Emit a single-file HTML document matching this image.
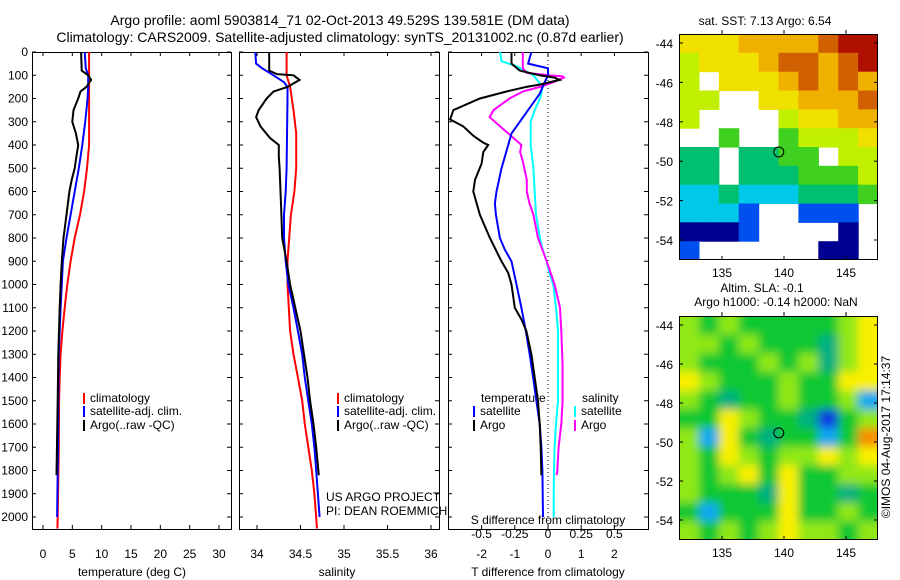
<!DOCTYPE html>
<html><head><meta charset="utf-8"><style>
html,body{margin:0;padding:0;background:#fff;}
svg{display:block;font-family:"Liberation Sans",sans-serif;}
</style></head><body>
<svg id="fig" width="900" height="580" viewBox="0 0 900 580">
<defs>
<filter id="blur" x="0" y="0" width="1" height="1"><feGaussianBlur stdDeviation="4.5"/></filter>
<clipPath id="clipMap1"><rect x="679" y="34" width="199" height="226"/></clipPath>
<clipPath id="clipMap2"><rect x="679" y="316" width="199" height="224"/></clipPath>
</defs>
<text x="340" y="25" font-size="14" text-anchor="middle">Argo profile: aoml 5903814_71 02-Oct-2013 49.529S 139.581E (DM data)</text>
<text x="340" y="42" font-size="14" text-anchor="middle">Climatology: CARS2009. Satellite-adjusted climatology: synTS_20131002.nc (0.87d earlier)</text>
</svg>
<script>
// ---------- data ----------
const tempDepthClim = [0,100,200,300,400,500,600,700,800,900,1000,1100,1200,1300,1400,1500,1700,2000,2050];
const tempClim = [7.85,7.85,7.85,7.85,7.85,7.5,7.0,6.3,5.4,4.7,4.15,3.7,3.3,3.0,2.85,2.75,2.7,2.5,2.45];
const tempDepthSat = [0,70,100,150,200,300,400,500,600,700,800,900,1000,1100,1200,1300,1500,1700,1900,2000];
const tempSat = [7.1,7.3,7.7,7.7,7.6,7.2,6.7,6.1,5.4,4.7,4.0,3.4,3.2,3.0,2.85,2.7,2.6,2.55,2.45,2.4];
const tempDepthArgo = [0,80,100,120,150,170,200,250,300,350,400,450,500,550,600,700,800,900,1000,1100,1300,1500,1820];
const tempArgo = [6.5,6.6,7.7,8.2,7.4,6.4,6.0,5.2,5.0,5.6,6.0,5.7,5.4,4.9,4.5,4.0,3.5,3.2,3.0,2.85,2.6,2.5,2.3];

const salDepthClim = [0,100,150,250,350,500,600,700,800,900,1000,1200,1300,1400,1500,1600,1700,1800,1900,2050];
const salClim = [34.34,34.34,34.38,34.42,34.45,34.45,34.43,34.39,34.37,34.35,34.35,34.38,34.42,34.47,34.52,34.55,34.59,34.63,34.66,34.69];
const salDepthSat = [0,50,70,100,130,150,200,500,600,700,800,900,1000,1100,1200,1300,1400,1500,1600,1700,1800,1900,2000];
const salSat = [33.98,33.99,34.06,34.19,34.31,34.35,34.35,34.34,34.33,34.31,34.31,34.33,34.36,34.42,34.47,34.52,34.55,34.59,34.63,34.66,34.68,34.70,34.72];
const salDepthArgo = [0,80,95,100,120,150,170,200,250,280,320,370,400,450,500,600,700,800,900,1000,1100,1200,1300,1400,1500,1600,1700,1820];
const salArgo = [34.14,34.14,34.23,34.42,34.49,34.35,34.19,34.11,34.02,33.99,34.04,34.15,34.25,34.25,34.26,34.27,34.28,34.29,34.34,34.38,34.44,34.50,34.54,34.58,34.61,34.65,34.68,34.71];

const dTDepthArgo = [0,50,80,100,110,120,140,150,170,200,250,290,320,360,390,400,430,480,550,600,700,800,900,950,1000,1100,1150,1200,1300,1400,1500,1600,1700,1820];
const dTArgo = [-1.1,-1.1,-0.85,-0.25,0.2,0.35,-0.25,-0.65,-1.25,-2.05,-2.85,-2.95,-2.55,-2.25,-1.95,-1.8,-1.95,-2.0,-2.2,-2.25,-2.05,-1.75,-1.4,-1.2,-1.1,-1.0,-0.8,-0.65,-0.5,-0.4,-0.3,-0.25,-0.22,-0.2];
const dTDepthSat = [0,50,70,100,130,180,250,300,350,400,500,600,650,700,800,850,900,1000,1100,1200,1300,1400,1500,1600,1700,1800,2000];
const dTSat = [-0.5,-0.6,0,0,-0.1,-0.25,-0.6,-0.85,-1.1,-1.2,-1.4,-1.55,-1.6,-1.57,-1.45,-1.3,-1.1,-0.95,-0.8,-0.67,-0.55,-0.45,-0.35,-0.25,-0.2,-0.17,-0.15];
const dSDepthSat = [0,40,60,100,150,200,250,300,400,500,600,700,800,850,900,950,1000,1100,1200,1300,1400,1500,1600,1700,1800,1900,2000];
const dSSat = [-0.36,-0.35,-0.24,-0.11,-0.04,-0.06,-0.1,-0.13,-0.13,-0.11,-0.1,-0.09,-0.06,-0.04,-0.01,0.01,0.04,0.06,0.075,0.075,0.075,0.075,0.06,0.05,0.045,0.043,0.043];
const dSDepthArgo = [0,70,90,100,105,110,130,150,170,200,250,280,330,370,400,430,470,550,600,650,700,800,900,1000,1100,1200,1350,1500,1600,1700,1800,1820];
const dSArgo = [-0.19,-0.19,-0.16,0.01,0.11,0.12,0.04,-0.06,-0.19,-0.29,-0.41,-0.44,-0.34,-0.26,-0.2,-0.21,-0.19,-0.16,-0.16,-0.14,-0.11,-0.075,-0.01,0.05,0.09,0.1,0.11,0.11,0.1,0.08,0.07,0.065];

const depthTicks = [0,100,200,300,400,500,600,700,800,900,1000,1100,1200,1300,1400,1500,1600,1700,1800,1900,2000];
const tempTicks = [0,5,10,15,20,25,30];
const salTicks = [34,34.5,35,35.5,36];
const salTickLabels = ["34","34.5","35","35.5","36"];
const dTTicks = [-2,-1,0,1,2];
const dSTicks = [-0.5,-0.25,0,0.25,0.5];
const dSTickLabels = ["-0.5","-0.25","0","0.25","0.5"];
const latTicks = [-44,-46,-48,-50,-52,-54];
const lonTicks = [135,140,145];

// SST grid (10 cols x 12 rows, '.' = missing); codes 0..9 cold->warm
const sstRows = ["6667777899","5666788789","5.66678787","55..667778","5....56677","..4..45556","33.3344.55","33.3334445","2232223334","2221..111.","0001....0.","1......00."];
const sstColors = ["#000090","#0050f0","#00c8e8","#00c070","#40d020","#c0f000","#f0e000","#f0b000","#d06000","#b01000"];
const slaRows = ["4343333345","4434333245","4333434245","5433343355","4323343341","3354332034","4153233136","4354344545","4345353344","4333253323","3133353343","4343454434"];
const slaColors = ["#0838e0","#10a8f0","#00b080","#10c830","#90e818","#f8f000","#f89000"];
const argoLon = 139.58, argoLat = -49.53;

// ---------- helpers ----------
const svg = document.getElementById('fig');
const NS = 'http://www.w3.org/2000/svg';
function mk(tag, attrs, parent){ const e=document.createElementNS(NS,tag); for(const k in attrs) e.setAttribute(k,attrs[k]); (parent||svg).appendChild(e); return e; }
function txt(x,y,s,anchor,size,parent){ const t=mk('text',{x:x,y:y,'font-size':size||12,'text-anchor':anchor||'start'},parent); t.textContent=s; return t; }
const yTop=52, yPerM=(517-52)/2000, yBot=529;
const yD = d => yTop + d*yPerM;
const xT = v => 43 + v*(219-43)/30;
const xS = v => 257 + (v-34)*(431-257)/2;
const xDT = v => 548 + v*33.2;
const xDS = v => 548 + v*4*33.2;
function line(depths, vals, xf, color, name, width){
  const pts = depths.map((d,i)=> xf(vals[i]).toFixed(1)+','+yD(d).toFixed(1)).join(' ');
  const p = mk('polyline',{points:pts,fill:'none',stroke:color,'stroke-width':width||2});
  
  
}
function panel(x0,x1,name){
  const g = mk('g',{});
  
  
  mk('rect',{x:x0+0.5,y:yTop+0.5,width:x1-x0,height:yBot-yTop,fill:'none',stroke:'#000','stroke-width':1},g);
  return g;
}
function xticks(g,ticks,labels,xf,ly){
  ticks.forEach((v,i)=>{
    const x=xf(v);
    mk('line',{x1:x,y1:yBot,x2:x,y2:yBot-4,stroke:'#000'},g);
    mk('line',{x1:x,y1:yTop,x2:x,y2:yTop+4,stroke:'#000'},g);
    if(ly) txt(x,ly,labels[i],'middle',12,g);
  });
}
function yticks(g,x0,x1){
  depthTicks.forEach(d=>{ const y=yD(d); mk('line',{x1:x0,y1:y,x2:x0+4,y2:y,stroke:'#000'},g); mk('line',{x1:x1,y1:y,x2:x1-4,y2:y,stroke:'#000'},g); });
}
function legendEntry(g,x,y,color,label){
  mk('rect',{x:x,y:y-9,width:2,height:11,fill:color},g);
  const t=txt(x+7,y,label,'start',12,g);
  
  
}

// ---------- panel 1: temperature ----------
const p1 = panel(32,231,'temperature-panel');
yticks(p1,32,231);
depthTicks.forEach(d=>{ const t=txt(28,yD(d)+4,String(d),'end',12,p1); });
xticks(p1,tempTicks,tempTicks.map(String),xT,558);
txt(132,576,'temperature (deg C)','middle',12,p1);
line(tempDepthClim,tempClim,xT,'#ff0000','temp-climatology-line');
line(tempDepthSat,tempSat,xT,'#0000ff','temp-satellite-line');
line(tempDepthArgo,tempArgo,xT,'#000000','temp-argo-line');
legendEntry(p1,83,402,'#ff0000','climatology');
legendEntry(p1,83,415,'#0000ff','satellite-adj. clim.');
legendEntry(p1,83,429,'#000000','Argo(..raw -QC)');

// ---------- panel 2: salinity ----------
const p2 = panel(239,439,'salinity-panel');
yticks(p2,239,439);
xticks(p2,salTicks,salTickLabels,xS,558);
txt(337,576,'salinity','middle',12,p2);
line(salDepthClim,salClim,xS,'#ff0000','sal-climatology-line');
line(salDepthSat,salSat,xS,'#0000ff','sal-satellite-line');
line(salDepthArgo,salArgo,xS,'#000000','sal-argo-line');
legendEntry(p2,337,402,'#ff0000','climatology');
legendEntry(p2,337,415,'#0000ff','satellite-adj. clim.');
legendEntry(p2,337,429,'#000000','Argo(..raw -QC)');
txt(326,501,'US ARGO PROJECT','start',12,p2);
txt(326,515,'PI: DEAN ROEMMICH','start',12,p2);

// ---------- panel 3: differences ----------
const p3 = panel(448,648,'difference-panel');
yticks(p3,448,648);
mk('line',{x1:548,y1:yTop,x2:548,y2:yBot,stroke:'#000','stroke-dasharray':'1,3'},p3);
xticks(p3,dTTicks,dTTicks.map(String),xDT,558);
dSTicks.forEach((v,i)=>txt(xDS(v),538,dSTickLabels[i],'middle',12,p3));
txt(548,524,'S difference from climatology','middle',12,p3);
txt(548,576,'T difference from climatology','middle',12,p3);
line(dSDepthSat,dSSat,xDS,'#00ffff','dS-satellite-line');
line(dSDepthArgo,dSArgo,xDS,'#ff00ff','dS-argo-line');
line(dTDepthSat,dTSat,xDT,'#0000ff','dT-satellite-line');
line(dTDepthArgo,dTArgo,xDT,'#000000','dT-argo-line');
txt(481,402,'temperature','start',12,p3);
legendEntry(p3,473,415,'#0000ff','satellite');
legendEntry(p3,473,429,'#000000','Argo');
txt(582,402,'salinity','start',12,p3);
legendEntry(p3,574,415,'#00ffff','satellite');
legendEntry(p3,574,429,'#ff00ff','Argo');

// ---------- maps ----------
function mapFrame(y0,y1,name,gridRows,colors,clip,blur){
  const x0=679,x1=878;
  const g=mk('g',{});
  
  
  const lonX = lon => 722 + (lon-135)*(846-722)/10;
  const latY = lat => y0 + 9 + (-44-lat)*((y1-y0-29)/10);
  const cg = mk('g',{'clip-path':'url(#'+clip+')'},g);
  const inner = mk('g', blur?{filter:'url(#blur)'}:{}, cg);
  if(blur) mk('rect',{x:x0-20,y:y0-20,width:240,height:y1-y0+40,fill:colors[3]},inner);
  const nr=gridRows.length, nc=10, cw=(x1-x0)/nc, ch=(y1-y0)/nr;
  const pad = blur ? 14 : 0;
  gridRows.forEach((row,r)=>{
    [...row.slice(0,10)].forEach((c,ci)=>{
      if(c==='.') return;
      const ex0 = x0+ci*cw - (blur && ci===0 ? pad : 0);
      const ey0 = y0+r*ch - (blur && r===0 ? pad : 0);
      const ew = cw+0.6 + (blur && (ci===0||ci===nc-1) ? pad : 0);
      const eh = ch+0.6 + (blur && (r===0||r===nr-1) ? pad : 0);
      const cell=mk('rect',{x:ex0.toFixed(1),y:ey0.toFixed(1),width:ew.toFixed(1),height:eh.toFixed(1),fill:colors[+c]},inner);
      
      
    });
  });
  mk('rect',{x:x0+0.5,y:y0+0.5,width:x1-x0-1,height:y1-y0-1,fill:'none',stroke:'#000'},g);
  latTicks.forEach(l=>{ const y=latY(l); mk('line',{x1:x0,y1:y,x2:x0+4,y2:y,stroke:'#000'},g); mk('line',{x1:x1,y1:y,x2:x1-4,y2:y,stroke:'#000'},g); txt(673,y+5,String(l),'end',12,g); });
  lonTicks.forEach(l=>{ const x=lonX(l); mk('line',{x1:x,y1:y1,x2:x,y2:y1-4,stroke:'#000'},g); mk('line',{x1:x,y1:y0,x2:x,y2:y0-4,stroke:'#000'},g); txt(x,y1+17,String(l),'middle',12,g); });
  const m=mk('circle',{cx:lonX(argoLon),cy:latY(argoLat),r:5,fill:'none',stroke:'#000','stroke-width':1},g);
  
  
}
txt(765,25,'sat. SST: 7.13 Argo: 6.54','middle',12);
mapFrame(34,260,'sst-map',sstRows,sstColors,'clipMap1',false);
txt(762,292,'Altim. SLA: -0.1','middle',12);
txt(776,306,'Argo h1000: -0.14 h2000: NaN','middle',12);
mapFrame(316,540,'sla-map',slaRows,slaColors,'clipMap2',true);
const cr = txt(0,0,'©IMOS 04-Aug-2017 17:14:37','middle',12);
cr.setAttribute('transform','translate(890,437) rotate(-90)');


</script>
</body></html>
